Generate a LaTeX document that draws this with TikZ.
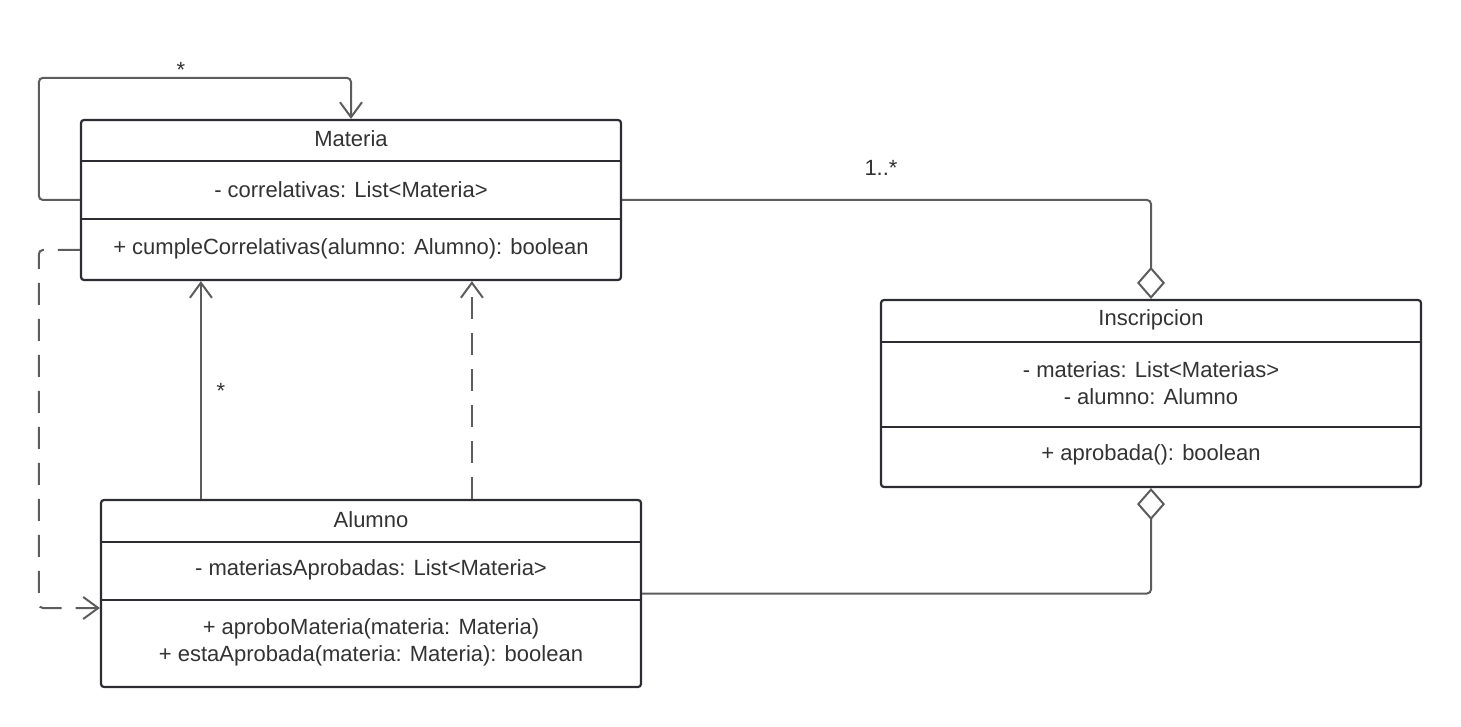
\documentclass[tikz,border=0pt]{standalone}
\usepackage{fontspec}
\setmainfont{Liberation Sans}
\usetikzlibrary{arrows.meta}
\definecolor{boxline}{HTML}{2B2D33}
\definecolor{linkline}{HTML}{5C5C5C}
\definecolor{txtcol}{HTML}{333333}

\begin{document}
\begin{tikzpicture}[x=1pt,y=-1pt]
                \tikzstyle{cls}=[draw=boxline, line width=2.2pt, rounded corners=3pt, fill=white, minimum width=540pt, inner sep=0pt]
                \tikzstyle{sep}=[draw=boxline, line width=2.2pt]
                \tikzstyle{txt}=[text=txtcol, font=\fontsize{22}{27}\selectfont, align=center, inner sep=0pt]
                \tikzstyle{link}=[draw=linkline, line width=2pt, rounded corners=4pt]
                \tikzstyle{nav}=[-{Straight Barb[length=15pt,width=22pt,line width=2pt]}]
                \tikzstyle{dep}=[dash pattern=on 22pt off 14pt]
                \tikzstyle{agg}=[-{Diamond[open,length=32pt,width=28pt,line width=2pt]}]

                \useasboundingbox (0,0) rectangle (1461,727);

                \node[cls, minimum height=160pt] (mat) at (351,200) {};
                \node[cls, minimum height=187pt] (ins) at (1151,393.5) {};
                \node[cls, minimum height=187pt] (alu) at (371,593.5) {};

                \draw[sep] ([yshift=-42pt]mat.north west) -- ([yshift=-42pt]mat.north east);
                \draw[sep] ([yshift=-100pt]mat.north west) -- ([yshift=-100pt]mat.north east);
                \draw[sep] ([yshift=-43pt]ins.north west) -- ([yshift=-43pt]ins.north east);
                \draw[sep] ([yshift=-128pt]ins.north west) -- ([yshift=-128pt]ins.north east);
                \draw[sep] ([yshift=-43pt]alu.north west) -- ([yshift=-43pt]alu.north east);
                \draw[sep] ([yshift=-101pt]alu.north west) -- ([yshift=-101pt]alu.north east);

                \node[txt] (matname) at (351,139) {Materia};
                \node[txt] (matattr) at (351,190) {- correlativas: List<Materia>};
                \node[txt] (matops) at (351,249) {+ cumpleCorrelativas(alumno: Alumno): boolean};

                \node[txt] (insname) at (1151,320) {Inscripcion};
                \node[txt] (insattr) at (1151,383) {- materias: List<Materias>\\- alumno: Alumno};
                \node[txt] (insops) at (1151,455) {+ aprobada(): boolean};

                \node[txt] (aluname) at (371,520) {Alumno};
                \node[txt] (aluattr) at (371,570) {- materiasAprobadas: List<Materia>};
                \node[txt] (aluops) at (371,642) {+ aproboMateria(materia: Materia)\\+ estaAprobada(materia: Materia): boolean};

                % associations
                \draw[link, nav] (mat.west) -- ++(-41,0) |- ([yshift=41pt]mat.north) -- (mat.north);
                \node[txt] (selfmult) at (181,70) {*};

                \draw[link, agg] (mat.east) -| (ins.north);
                \node[txt] (insmult) at (881,168) {1..*};
                \draw[link, agg] (alu.east) -| (ins.south);

                \draw[link, nav] ([xshift=101pt]alu.north west) -- ([xshift=101pt]alu.north west |- mat.south);
                \node[txt] (alumult) at (221,391) {*};

                % dependencies
                \draw[link, nav, dep] ([xshift=372pt]alu.north west) -- ([xshift=372pt]alu.north west |- mat.south);
                \draw[link, nav, dep] ([yshift=-50pt]mat.west) -- ++(-41,0) |- ([yshift=-14.5pt]alu.west);
\end{tikzpicture}
\end{document}
